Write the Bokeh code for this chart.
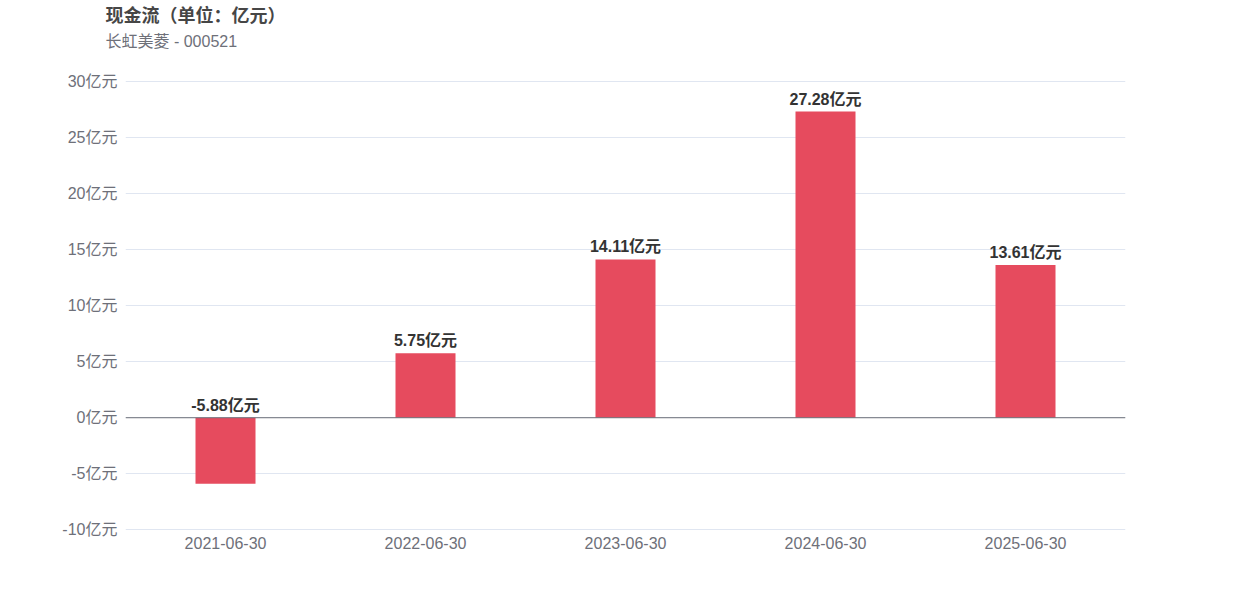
from bokeh.plotting import figure
from bokeh.models import FixedTicker, PrintfTickFormatter, Span, Title, ColumnDataSource
from bokeh.core.properties import value
from bokeh.embed import file_html
from bokeh.resources import INLINE

dates = ["2021-06-30", "2022-06-30", "2023-06-30", "2024-06-30", "2025-06-30"]
cash_flow = [-5.88, 5.75, 14.11, 27.28, 13.61]
y_ticks = [-10, -5, 0, 5, 10, 15, 20, 25, 30]
title_text = "现金流（单位：亿元）"
subtitle_text = "长虹美菱 - 000521"

FONT = "Liberation Sans, Noto Sans CJK SC, sans-serif"

src = ColumnDataSource(dict(
    x=dates,
    top=cash_flow,
    ly=[max(v, 0) for v in cash_flow],
    lbl=[f"{v:.2f}亿元" for v in cash_flow],
))

p = figure(x_range=dates, y_range=(-10.05, 30.05), width=1242, height=592,
           output_backend="svg", toolbar_location=None, title=None,
           min_border_left=125, min_border_right=117,
           min_border_top=80, min_border_bottom=62)
p.outline_line_color = None
p.background_fill_color = "white"

p.vbar(x="x", top="top", bottom=0, width=0.3, source=src,
       fill_color="#e64b5e", line_color=None)

p.text(x="x", y="ly", text="lbl", source=src, text_align="center",
       text_baseline="bottom", y_offset=-4, text_font=value(FONT),
       text_font_size="16px", text_font_style="bold", text_color="#333333")

p.add_layout(Span(location=0, dimension="width", line_color="#6e7079", line_width=1))

p.yaxis.ticker = FixedTicker(ticks=y_ticks)
p.yaxis.formatter = PrintfTickFormatter(format="%d亿元")
p.yaxis.axis_line_color = None
p.yaxis.major_tick_line_color = None
p.yaxis.minor_tick_line_color = None
p.yaxis.major_tick_out = 0
p.yaxis.minor_tick_out = 0
p.yaxis.major_label_standoff = 8
p.yaxis.major_label_text_font = FONT
p.yaxis.major_label_text_font_size = "16px"
p.yaxis.major_label_text_color = "#6e7079"

p.xaxis.axis_line_color = None
p.xaxis.major_tick_line_color = None
p.xaxis.minor_tick_line_color = None
p.xaxis.major_tick_out = 0
p.xaxis.minor_tick_out = 0
p.xaxis.major_label_standoff = 6
p.xaxis.major_label_text_font = FONT
p.xaxis.major_label_text_font_size = "16px"
p.xaxis.major_label_text_color = "#6e7079"

p.xgrid.grid_line_color = None
p.ygrid.grid_line_color = "#e0e6f1"
p.ygrid.grid_line_width = 1

# spacer between plot area and subtitle
p.add_layout(Title(text=" ", align="left", standoff=21, text_font_size="1px",
                   text_color="white"), "above")
p.add_layout(Title(text=subtitle_text, align="left", offset=-20, standoff=14,
                   text_font=FONT, text_font_size="16px", text_font_style="normal",
                   text_color="#6e7079"), "above")
p.add_layout(Title(text=title_text, align="left", offset=-20, standoff=-4,
                   text_font=FONT, text_font_size="18px", text_font_style="bold",
                   text_color="#464646"), "above")

open("out.html", "w").write(file_html(p, INLINE))
